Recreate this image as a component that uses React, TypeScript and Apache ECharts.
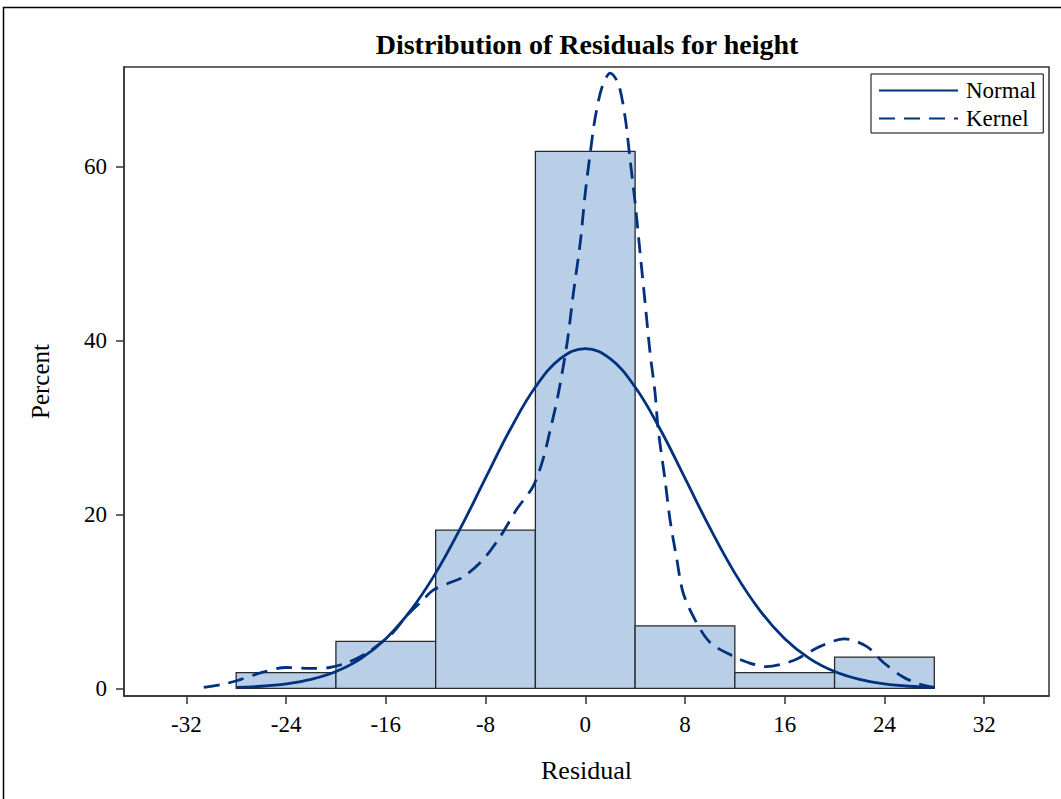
import React, { useEffect, useRef } from "react";
import * as echarts from "echarts";

// Histogram bins: [start, end, percent]
const binStarts = [-28, -20, -12, -4, 4, 12, 20];
const binEnds = [-20, -12, -4, 4, 12, 20, 28];
const binPercents = [1.8, 5.4, 18.2, 61.8, 7.2, 1.8, 3.6];

// Normal density curve (percent)
const normalX = [-28, -26, -24, -22, -20, -18, -16, -14, -12, -10, -8, -6, -4, -2, 0, 2, 4, 6, 8, 10, 12, 14, 16, 18, 20, 22, 24, 26, 28];
const normalY = [0.11, 0.24, 0.52, 1.03, 1.94, 3.43, 5.72, 8.98, 13.26, 18.46, 24.18, 29.84, 34.67, 37.94, 39.1, 37.94, 34.67, 29.84, 24.18, 18.46, 13.26, 8.98, 5.72, 3.43, 1.94, 1.03, 0.52, 0.24, 0.11];

// Kernel density curve (percent)
const kernelX = [-30.6, -29, -27.9, -26, -24, -22, -20.5, -19, -17.5, -15.5, -14.3, -13, -12.2, -10.8, -9.8, -8.2, -6.8, -5.5, -4.2, -3.4, -2.8, -2.2, -1.45, -0.95, -0.4, 0, 0.4, 0.8, 1.35, 2.0, 2.65, 3.2, 3.6, 4.0, 4.4, 4.8, 5.2, 5.6, 5.85, 6.4, 6.8, 7.35, 7.85, 8.8, 10, 11.85, 13, 14.5, 16.7, 18.8, 20.8, 22.6, 23.9, 25.5, 26.8, 28];
const kernelY = [0.1, 0.5, 0.9, 1.8, 2.4, 2.3, 2.4, 3.0, 4.1, 6.3, 8.4, 10.2, 11.3, 12.2, 12.8, 14.8, 17.5, 20.6, 23.2, 26.3, 29.8, 33.6, 39.8, 45.5, 51.3, 57, 61.6, 65.7, 69.2, 70.8, 69.6, 65.7, 60.8, 55.9, 50.1, 44.4, 38.6, 34, 29.8, 24, 19.4, 14.8, 11, 7.9, 5.3, 3.7, 3.0, 2.5, 3.2, 4.8, 5.7, 4.8, 3.0, 1.3, 0.5, 0.1];

const xTicks = [-32, -24, -16, -8, 0, 8, 16, 24, 32];
const yTicks = [0, 20, 40, 60];

const FONT = "'Liberation Serif', 'DejaVu Serif', serif";
const LINE_COLOR = "#00317C";

export default function App() {
  const ref = useRef<HTMLDivElement>(null);
  useEffect(() => {
    document.body.style.margin = "0";
    const chart = echarts.init(ref.current!, null, { renderer: "svg" });
    const bins = binStarts.map((s, i) => [s, binEnds[i], binPercents[i]]);
    chart.setOption({
      animation: false,
      backgroundColor: "#ffffff",
      title: {
        text: "Distribution of Residuals for height",
        left: 582,
        top: 25,
        textAlign: "center",
        textStyle: { fontFamily: FONT, fontSize: 28, fontWeight: "bold", color: "#000" },
      },
      legend: {
        orient: "vertical",
        left: 871,
        top: 74,
        padding: [5, 7, 3, 7],
        itemWidth: 79,
        itemHeight: 14,
        itemGap: 5,
        borderColor: "#000",
        borderWidth: 1,
        backgroundColor: "#fff",
        itemStyle: { opacity: 0 },
        textStyle: { fontFamily: FONT, fontSize: 23, color: "#000", padding: [0, 0, 0, 3] },
        data: ["Normal", "Kernel"],
      },
      grid: {
        left: 124,
        right: 12,
        top: 67,
        bottom: 103,
        show: true,
        borderColor: "#333",
        borderWidth: 1.5,
        containLabel: false,
      },
      xAxis: {
        type: "value",
        min: -37,
        max: 37.2,
        name: "Residual",
        nameLocation: "middle",
        nameGap: 61,
        nameTextStyle: { fontFamily: FONT, fontSize: 26, color: "#000" },
        axisLine: { show: true, onZero: false, lineStyle: { color: "#333", width: 1.5 } },
        axisTick: { show: true, customValues: xTicks, length: 8, lineStyle: { color: "#333", width: 1.5 } },
        axisLabel: { customValues: xTicks, margin: 17, fontFamily: FONT, fontSize: 23, color: "#000" },
        splitLine: { show: false },
      },
      yAxis: {
        type: "value",
        min: -0.88,
        max: 71.5,
        name: "Percent",
        nameLocation: "middle",
        nameGap: 71,
        nameRotate: 90,
        nameTextStyle: { fontFamily: FONT, fontSize: 25, color: "#000" },
        axisLine: { show: true, onZero: false, lineStyle: { color: "#333", width: 1.5 } },
        axisTick: { show: true, customValues: yTicks, length: 8, lineStyle: { color: "#333", width: 1.5 } },
        axisLabel: { customValues: yTicks, margin: 17, fontFamily: FONT, fontSize: 23, color: "#000" },
        splitLine: { show: false },
      },
      graphic: [
        {
          type: "rect",
          shape: { x: 3.5, y: 7.5, width: 1080, height: 820 },
          style: { fill: "none", stroke: "#000", lineWidth: 1.5 },
          silent: true,
        },
      ],
      series: [
        {
          type: "custom",
          name: "Histogram",
          data: bins,
          encode: { x: [0, 1], y: 2 },
          z: 1,
          renderItem: (_params: any, api: any) => {
            const x0 = api.value(0);
            const x1 = api.value(1);
            const v = api.value(2);
            const p0 = api.coord([x0, v]);
            const p1 = api.coord([x1, 0]);
            return {
              type: "rect",
              shape: { x: p0[0], y: p0[1], width: p1[0] - p0[0], height: p1[1] - p0[1] },
              style: { fill: "#B9CFE8", stroke: "#2a2a2a", lineWidth: 1.3 },
            };
          },
        },
        {
          type: "line",
          name: "Normal",
          data: normalX.map((x, i) => [x, normalY[i]]),
          smooth: 0.4,
          symbol: "none",
          showSymbol: false,
          z: 3,
          color: LINE_COLOR,
          lineStyle: { color: LINE_COLOR, width: 2.8, type: "solid" },
        },
        {
          type: "line",
          name: "Kernel",
          data: kernelX.map((x, i) => [x, kernelY[i]]),
          smooth: 0.3,
          symbol: "none",
          showSymbol: false,
          z: 3,
          color: LINE_COLOR,
          lineStyle: { color: LINE_COLOR, width: 2.8, type: [16, 9] },
        },
      ],
    });
    return () => chart.dispose();
  }, []);
  return <div ref={ref} style={{ width: 1061, height: 799 }} />;
}
